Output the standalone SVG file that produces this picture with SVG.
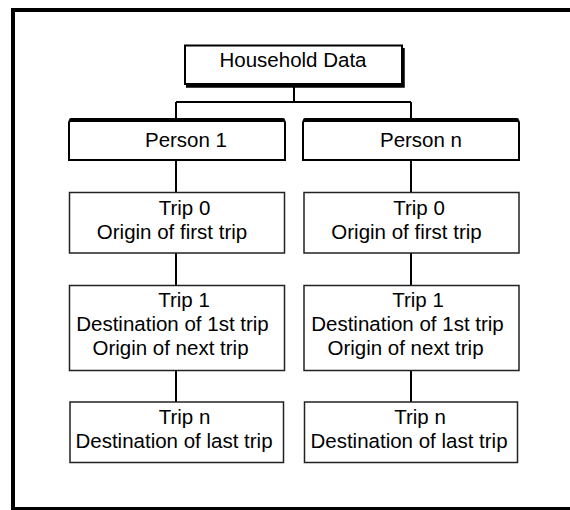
<svg xmlns="http://www.w3.org/2000/svg" width="570" height="510" viewBox="0 0 570 510">
<style>
text{font-family:"Liberation Sans",Arial,sans-serif;font-size:20.5px;fill:#000;text-anchor:middle}
.frame{fill:none;stroke:#000;stroke-width:4}
.trip{fill:#fff;stroke:#222;stroke-width:1.5}
.person{fill:#fff;stroke:#000;stroke-width:2}
.thick{fill:none;stroke:#000;stroke-width:4;stroke-linecap:round}
.conn{fill:none;stroke:#000;stroke-width:2}
</style>
<rect class="frame" x="13" y="10" width="575" height="499"/>
<g id="connectors">
<path class="conn" d="M294,86 V102 M176,102 H411 M176,102 V119 M411,102 V119 M176,160 V192 M411,160 V192 M176,253 V285 M411,253 V285 M176,371 V402 M411,371 V402"/>
</g>
<g id="household">
<rect x="185" y="45.5" width="217" height="38.5" fill="#fff" stroke="#000" stroke-width="2"/>
<path d="M403,48 V86 H186" fill="none" stroke="#000" stroke-width="3.5"/>
<text x="293" y="67">Household Data</text>
</g>
<g id="person1">
<path class="person" d="M69,160 V123 Q69,120 72,120 H282 Q285,120 285,123 V160 Z"/>
<path class="thick" d="M71,120 H283"/>
<text x="186" y="147">Person 1</text>
</g>
<g id="personn">
<path class="person" d="M303,160 V123 Q303,120 306,120 H516 Q519,120 519,123 V160 Z"/>
<path class="thick" d="M305,120 H517"/>
<text x="421" y="147">Person n</text>
</g>
<g id="trip0-1">
<rect class="trip" x="69.5" y="192.5" width="215" height="60.5"/>
<text x="184.5" y="215">Trip 0</text>
<text x="172" y="238.5">Origin of first trip</text>
</g>
<g id="trip0-n">
<rect class="trip" x="304" y="192.5" width="215" height="60.5"/>
<text x="419" y="215">Trip 0</text>
<text x="406.5" y="238.5">Origin of first trip</text>
</g>
<g id="trip1-1">
<rect class="trip" x="69.5" y="285.5" width="215" height="85"/>
<text x="184" y="307">Trip 1</text>
<text x="172.5" y="330.5">Destination of 1st trip</text>
<text x="170.5" y="354.5">Origin of next trip</text>
</g>
<g id="trip1-n">
<rect class="trip" x="304" y="285.5" width="215" height="85"/>
<text x="418" y="307">Trip 1</text>
<text x="407.5" y="330.5">Destination of 1st trip</text>
<text x="405.5" y="354.5">Origin of next trip</text>
</g>
<g id="tripn-1">
<rect class="trip" x="70" y="402" width="213.5" height="60.5"/>
<text x="184.5" y="423.5">Trip n</text>
<text x="174" y="447.5">Destination of last trip</text>
</g>
<g id="tripn-n">
<rect class="trip" x="304.5" y="402" width="213" height="60.5"/>
<text x="420" y="423.5">Trip n</text>
<text x="409" y="447.5">Destination of last trip</text>
</g>
</svg>
